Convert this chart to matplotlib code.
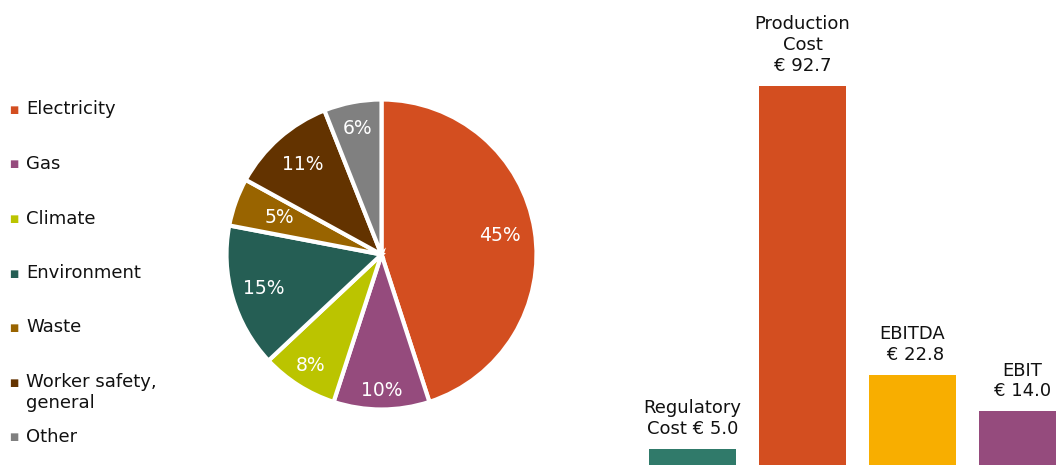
import matplotlib
matplotlib.use("Agg")
import numpy as np
import matplotlib.pyplot as plt

# cost breakdown (pie)
categories = ["Electricity", "Gas", "Climate", "Environment", "Waste",
              "Worker safety,\ngeneral", "Other"]
shares = [45, 10, 8, 15, 5, 11, 6]
pie_colors = ["#D34E20", "#954B7D", "#BBC400", "#255E54", "#996400",
              "#633300", "#808080"]

# cost vs. earnings (bars)
bar_names = ["Regulatory\nCost", "Production\nCost", "EBITDA", "EBIT"]
bar_values = [5.0, 92.7, 22.8, 14.0]
bar_label_text = ["Regulatory\nCost \u20ac 5.0", "Production\nCost\n\u20ac 92.7",
                  "EBITDA\n \u20ac 22.8", "EBIT\n\u20ac 14.0"]
bar_colors = ["#307A6A", "#D34E20", "#F8AE00", "#954B7D"]

W, H = 1056, 465
plt.rcParams["font.family"] = "DejaVu Sans"
fig = plt.figure(figsize=(W / 100, H / 100), dpi=100)


def px(x, y, w, h):
    # pixel box (from top-left) -> figure fraction rect
    return [x / W, 1 - (y + h) / H, w / W, h / H]


# pie
cx, cy, r = 381.5, 254.5, 155
ax_pie = fig.add_axes(px(cx - r, cy - r, 2 * r, 2 * r))
wedges, _, pct = ax_pie.pie(shares, colors=pie_colors, startangle=90,
                            counterclock=False, autopct="%d%%",
                            wedgeprops=dict(edgecolor="white", linewidth=3),
                            textprops=dict(color="white", fontsize=13.5))
# nudge each percentage label along its wedge's mid-angle
label_dist = [0.77, 0.88, 0.85, 0.79, 0.70, 0.77, 0.83]
for w, t, d in zip(wedges, pct, label_dist):
    a = np.deg2rad((w.theta1 + w.theta2) / 2)
    t.set_position((d * np.cos(a), d * np.sin(a)))
ax_pie.set_xlim(-1, 1)
ax_pie.set_ylim(-1, 1)
ax_pie.set_aspect("equal")
ax_pie.axis("off")

# legend drawn by hand so the marker sits on the first text line
for i, (name, col) in enumerate(zip(categories, pie_colors)):
    yc = 110 + i * 54.5
    fig.text(14 / W, 1 - yc / H, "\u25a0", color=col, fontsize=7,
             ha="center", va="center")
    fig.text(26 / W, 1 - (yc - 9.5) / H, name, color="#111111", fontsize=13,
             ha="left", va="top", linespacing=1.2)

# bars
ax_bar = fig.add_axes([637.5 / W, -4.3 / H, 418.5 / W, 469.3 / H])
xs = range(len(bar_values))
ax_bar.bar(xs, bar_values, width=0.79, color=bar_colors)
ax_bar.set_xlim(-0.5, 3.305)
ax_bar.set_ylim(0, 113.5)
ax_bar.axis("off")
for x, v, t in zip(xs, bar_values, bar_label_text):
    ax_bar.annotate(t, (x, v), xytext=(0, 8), textcoords="offset points",
                    ha="center", va="bottom", multialignment="center",
                    fontsize=13, color="#111111", linespacing=1.2)

fig.savefig("out.png", dpi=100)
